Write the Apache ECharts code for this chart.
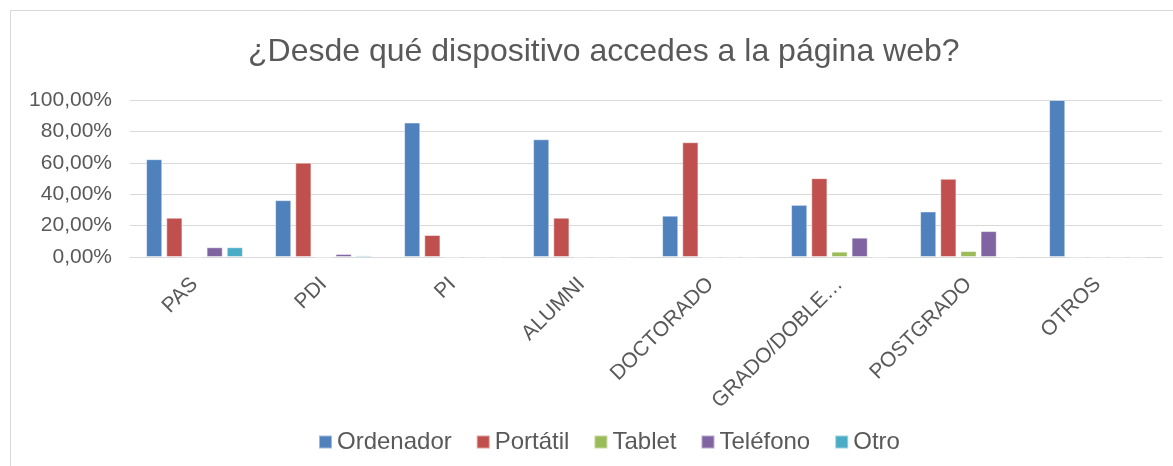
<!DOCTYPE html>
<html>
<head>
<meta charset="utf-8">
<script src="https://cdn.jsdelivr.net/npm/echarts@6/dist/echarts.min.js"></script>
<style>html,body{margin:0;padding:0;background:#fff}#c{width:1173px;height:466px}</style>
</head>
<body>
<div id="c"></div>
<script>
const title = '¿Desde qué dispositivo accedes a la página web?';
const categories = ['PAS', 'PDI', 'PI', 'ALUMNI', 'DOCTORADO', 'GRADO/DOBLE…', 'POSTGRADO', 'OTROS'];
const ordenador = [62.3, 36.2, 85.6, 75.0, 26.3, 33.2, 29.0, 100];
const portatil  = [25.0, 60.1, 14.0, 25.0, 73.1, 50.2, 49.8, 0];
const tablet    = [0, 0, 0, 0, 0, 3.4, 3.8, 0];
const telefono  = [6.2, 1.9, 0, 0, 0, 12.3, 16.5, 0];
const otro      = [6.2, 1.0, 0, 0, 0, 0, 0, 0];
const seriesNames = ['Ordenador', 'Portátil', 'Tablet', 'Teléfono', 'Otro'];
const seriesData = [ordenador, portatil, tablet, telefono, otro];
const colors = ['#4F81BD', '#C0504D', '#9BBB59', '#8064A2', '#4BACC6'];
const yTicks = [0, 20, 40, 60, 80, 100];

const chart = echarts.init(document.getElementById('c'), null, {renderer: 'canvas'});
const font = 'Liberation Sans, Arial, sans-serif';
chart.setOption({
  animation: false,
  color: colors,
  title: {
    text: title, left: 243, top: 31,
    textStyle: {fontFamily: font, fontSize: 32, fontWeight: 'normal', color: '#595959'}
  },
  graphic: [{
    type: 'rect', shape: {x: 10.5, y: 10.5, width: 1300, height: 600},
    style: {fill: 'none', stroke: '#d9d9d9', lineWidth: 1}, silent: true, z: -1
  }],
  legend: {
    bottom: 7, left: 313, icon: 'rect', itemWidth: 13, itemHeight: 13, itemGap: 24,
    textStyle: {fontFamily: font, fontSize: 24, color: '#595959'},
    data: seriesNames
  },
  grid: {left: 130, right: 11, top: 100, bottom: 209, containLabel: false},
  xAxis: {
    type: 'category', data: categories,
    axisLine: {show: true, lineStyle: {color: '#d9d9d9', width: 1}},
    axisTick: {show: false},
    axisLabel: {rotate: 45, margin: 24, interval: 0, fontFamily: font, fontSize: 21, color: '#595959'}
  },
  yAxis: {
    type: 'value', min: 0, max: 100, interval: 20,
    axisLine: {show: false}, axisTick: {show: false},
    splitLine: {lineStyle: {color: '#d9d9d9', width: 1}},
    axisLabel: {margin: 18, fontFamily: font, fontSize: 21, color: '#595959',
      formatter: v => yTicks.includes(v) ? v.toFixed(2).replace('.', ',') + '%' : ''}
  },
  series: seriesNames.map((n, i) => ({
    name: n, type: 'bar', data: seriesData[i],
    barGap: '25%', barCategoryGap: '25%',
    itemStyle: {borderColor: 'rgba(255,255,255,0.45)', borderWidth: 1}
  }))
});
</script>
</body>
</html>
